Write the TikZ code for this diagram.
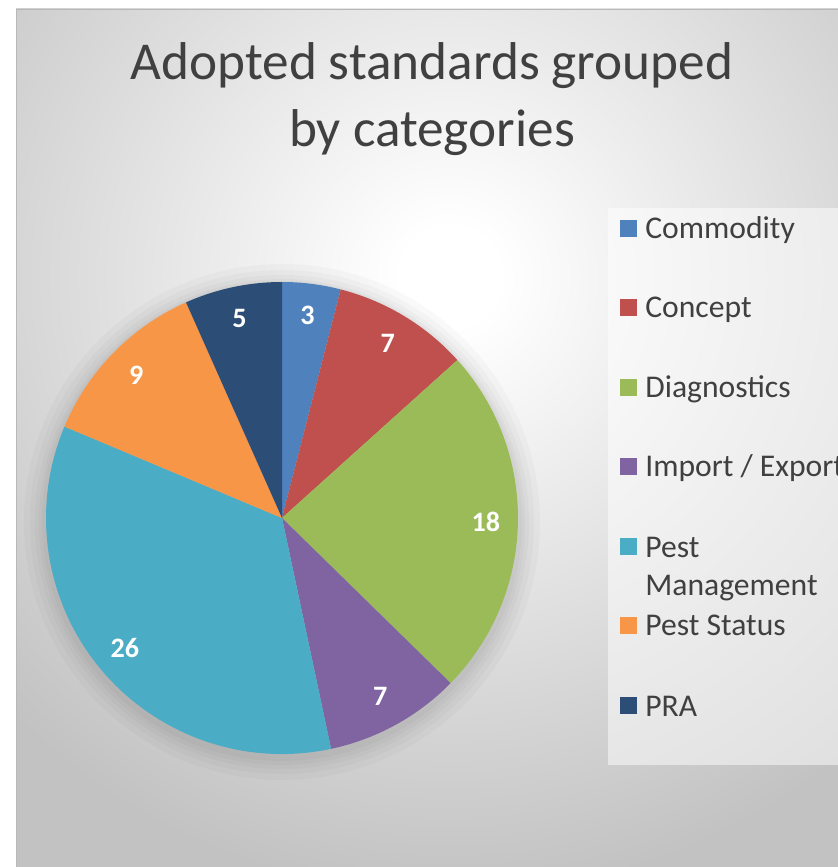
\documentclass[tikz,border=0pt]{standalone}
\usepackage{fontspec}
\setmainfont{Carlito}
\usetikzlibrary{calc}
\definecolor{commodityblue}{RGB}{79,129,189}
\definecolor{conceptred}{RGB}{192,80,77}
\definecolor{diagnosticsgreen}{RGB}{155,187,89}
\definecolor{importviolet}{RGB}{128,100,162}
\definecolor{pestcyan}{RGB}{75,172,198}
\definecolor{statusorange}{RGB}{247,150,70}
\definecolor{pranavy}{RGB}{44,77,117}
\definecolor{titlegray}{RGB}{64,64,64}
\definecolor{framegray}{RGB}{194,194,194}
\pgfdeclareradialshading{chartglow}{\pgfpointorigin}{color(0bp)=(white); color(2bp)=(white); color(25bp)=(framegray); color(50bp)=(framegray)}
\begin{document}
\begin{tikzpicture}[
    x=0.02cm, y=0.02cm,
    slice/.style={draw=none},
    val/.style={text=white, font=\fontsize{16}{18}\selectfont\bfseries, inner sep=0pt},
    key/.style={minimum size=17*0.02cm, inner sep=0pt},
    keytext/.style={anchor=base west, text=titlegray, font=\fontsize{18}{22}\selectfont, inner sep=0pt, align=left}
]
\useasboundingbox (0,0) rectangle (838,867);

% Chart area
\begin{scope}
\clip (16,0) rectangle (838,858);
\fill[framegray] (16,0) rectangle (838,858);
\shade[shading=chartglow] (450,590) circle (620);
\end{scope}
\draw[black!28] (16,0) -- (16,858) -- (838,858);

% Title
\node[text=titlegray, align=center, font=\fontsize{30.3}{38.5}\selectfont] (title) at (432,768) {Adopted standards grouped\\by categories};

% Pie centre
\coordinate (c) at (282,349);

% Shadow
\fill[black, opacity=0.025] ($(c)+(0,-4)$) circle (258);
\fill[black, opacity=0.025] ($(c)+(0,-4)$) circle (252);
\fill[black, opacity=0.025] ($(c)+(0,-4)$) circle (247);
\fill[black, opacity=0.025] ($(c)+(0,-4)$) circle (243);
\fill[black, opacity=0.025] ($(c)+(0,-3)$) circle (240);

% Slices
\fill[slice, commodityblue] (c) -- ++(90:236) arc[start angle=90, end angle=75.6, radius=236] -- cycle;
\fill[slice, conceptred] (c) -- ++(75.6:236) arc[start angle=75.6, end angle=42, radius=236] -- cycle;
\fill[slice, diagnosticsgreen] (c) -- ++(42:236) arc[start angle=42, end angle=-44.4, radius=236] -- cycle;
\fill[slice, importviolet] (c) -- ++(-44.4:236) arc[start angle=-44.4, end angle=-78, radius=236] -- cycle;
\fill[slice, pestcyan] (c) -- ++(-78:236) arc[start angle=-78, end angle=-202.8, radius=236] -- cycle;
\fill[slice, statusorange] (c) -- ++(-202.8:236) arc[start angle=-202.8, end angle=-246, radius=236] -- cycle;
\fill[slice, pranavy] (c) -- ++(-246:236) arc[start angle=-246, end angle=-270, radius=236] -- cycle;

% Values
\node[val] (commodity) at ($(c)+(82.8:204)$) {3};
\node[val] (concept) at ($(c)+(58.8:204)$) {7};
\node[val] (diagnostics) at ($(c)+(-1.2:204)$) {18};
\node[val] (import) at ($(c)+(-61.2:204)$) {7};
\node[val] (pest) at ($(c)+(-140.4:204)$) {26};
\node[val] (status) at ($(c)+(135.6:204)$) {9};
\node[val] (pra) at ($(c)+(102:204)$) {5};

% Legend
\fill[white, opacity=0.5] (608,102) rectangle (838,659);

\node[key, fill=commodityblue] (k1) at (628,638) {};
\node[keytext] (t1) at (645,628) {Commodity};

\node[key, fill=conceptred] (k2) at (628,559) {};
\node[keytext] (t2) at (645,549) {Concept};

\node[key, fill=diagnosticsgreen] (k3) at (628,479) {};
\node[keytext] (t3) at (645,469) {Diagnostics};

\node[key, fill=importviolet] (k4) at (628,400) {};
\node[keytext] (t4) at (645,390) {Import / Export};

\node[key, fill=pestcyan] (k5) at (628,320) {};
\node[keytext] (t5) at (645,271) {Pest\\Management};

\node[key, fill=statusorange] (k6) at (628,241) {};
\node[keytext] (t6) at (645,231) {Pest Status};

\node[key, fill=pranavy] (k7) at (628,161) {};
\node[keytext] (t7) at (645,151) {PRA};

\end{tikzpicture}
\end{document}
